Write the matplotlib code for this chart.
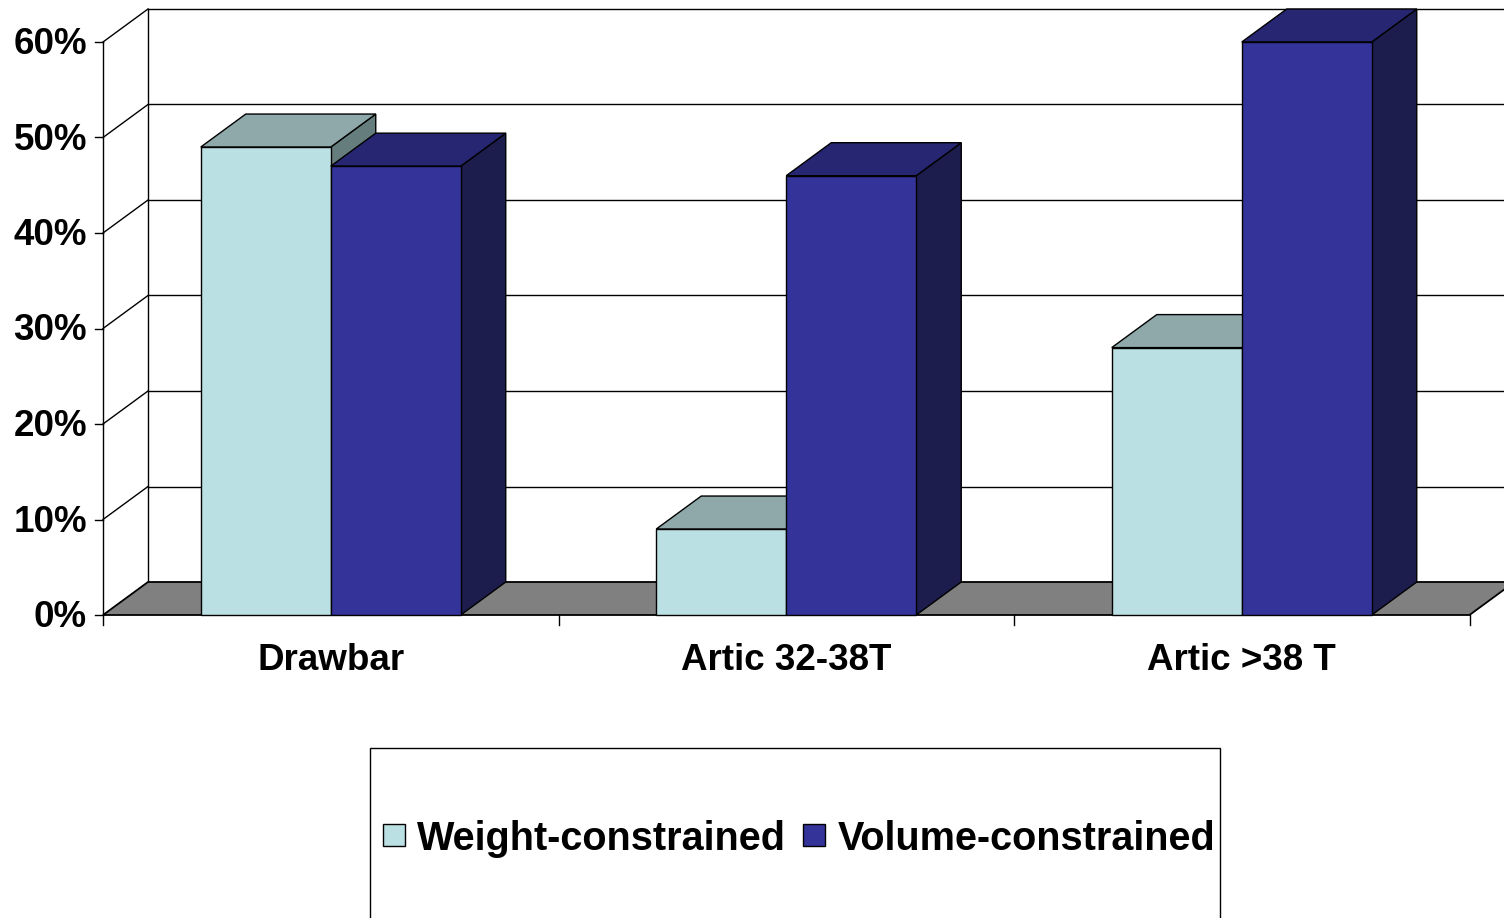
import matplotlib
matplotlib.use('Agg')
import matplotlib.pyplot as plt
from matplotlib.patches import Polygon, Rectangle

categories = ['Drawbar', 'Artic 32-38T', 'Artic >38 T']
weight = [49, 9, 28]
volume = [47, 46, 60]
series_names = ['Weight-constrained', 'Volume-constrained']
yticks = [0, 10, 20, 30, 40, 50, 60]
ytick_labels = ['0%', '10%', '20%', '30%', '40%', '50%', '60%']

plt.rcParams['font.family'] = ['Liberation Sans', 'DejaVu Sans']

W_FRONT, W_TOP, W_SIDE = '#BBE0E3', '#8FA9AB', '#667D7E'
V_FRONT, V_TOP, V_SIDE = '#333399', '#262673', '#1C1C4D'

FIG_W, FIG_H = 1504, 918
fig = plt.figure(figsize=(FIG_W / 100, FIG_H / 100), dpi=100)
ax = fig.add_axes([0, 0, 1, 1])
PX = 455.5   # pixels per category
PY = 9.55    # pixels per percent
X0, Y0 = 103, 615
ax.set_xlim(-X0 / PX, (FIG_W - X0) / PX)
ax.set_ylim(-(FIG_H - Y0) / PY, Y0 / PY)
ax.axis('off')

DX = 45 / PX
DY = 33 / PY
ncat = len(categories)
XMAX = ncat
YMAX = yticks[-1]

lw = 1.0
z = 1
# back wall gridlines
for v in yticks[1:]:
    ax.plot([DX, XMAX + DX + 1], [v + DY, v + DY], color='black', lw=lw, zorder=z)
# back left vertical edge
ax.plot([DX, DX], [DY, YMAX + DY], color='black', lw=lw, zorder=z)
# left wall diagonals
for v in yticks[1:]:
    ax.plot([0, DX], [v, v + DY], color='black', lw=lw, zorder=z)
# front axis line
ax.plot([0, 0], [0, YMAX], color='black', lw=lw, zorder=z + 1)
# floor
ax.add_patch(Polygon([(0, 0), (XMAX, 0), (XMAX + DX, DY), (DX, DY)],
                     closed=True, facecolor='#808080', edgecolor='black',
                     lw=lw * 1.3, zorder=z + 1))
# y ticks
for v, lab in zip(yticks, ytick_labels):
    ax.plot([-8 / PX, 0], [v, v], color='black', lw=lw, zorder=z + 2)
    ax.text(-16 / PX, v - 2.5 / PY, lab, ha='right', va='center', fontsize=26.5,
            fontweight='bold', color='black')
# x ticks
for i in range(ncat + 1):
    ax.plot([i, i], [0, -10 / PY], color='black', lw=lw, zorder=z + 2)
for i, c in enumerate(categories):
    ax.text(i + 0.5, -46 / PY, c, ha='center', va='center', fontsize=26.5,
            fontweight='bold', color='black')

bw = 130 / PX
zz = 10
for i in range(ncat):
    for j, (vals, fc, tc, sc) in enumerate([(weight, W_FRONT, W_TOP, W_SIDE),
                                             (volume, V_FRONT, V_TOP, V_SIDE)]):
        left = i + 0.5 - bw + j * bw
        h = vals[i]
        right = left + bw
        ax.add_patch(Polygon([(right, 0), (right + DX, DY), (right + DX, h + DY), (right, h)],
                             closed=True, facecolor=sc, edgecolor='black', lw=lw, zorder=zz))
        ax.add_patch(Polygon([(left, h), (right, h), (right + DX, h + DY), (left + DX, h + DY)],
                             closed=True, facecolor=tc, edgecolor='black', lw=lw, zorder=zz))
        ax.bar(left, h, width=bw, align='edge', color=fc, edgecolor='black',
               linewidth=lw, zorder=zz + 1)
        zz += 2

# legend
def fx(p):
    return p / FIG_W

def fy(p):
    return (FIG_H - p) / FIG_H

fig.patches.append(Rectangle((fx(370), fy(922)), fx(1220) - fx(370), fy(748) - fy(922),
                             transform=fig.transFigure, facecolor='white',
                             edgecolor='black', lw=lw, zorder=20))
for (mx, tx), name, col in zip([(383, 417), (803, 838)], series_names, [W_FRONT, V_FRONT]):
    fig.patches.append(Rectangle((fx(mx), fy(846)), fx(mx + 22) - fx(mx), fy(824) - fy(846),
                                 transform=fig.transFigure, facecolor=col,
                                 edgecolor='black', lw=lw, zorder=21))
    fig.text(fx(tx), fy(839), name, ha='left', va='center', fontsize=28.5,
             fontweight='bold', color='black', zorder=22)

fig.savefig('out.png', dpi=100)
